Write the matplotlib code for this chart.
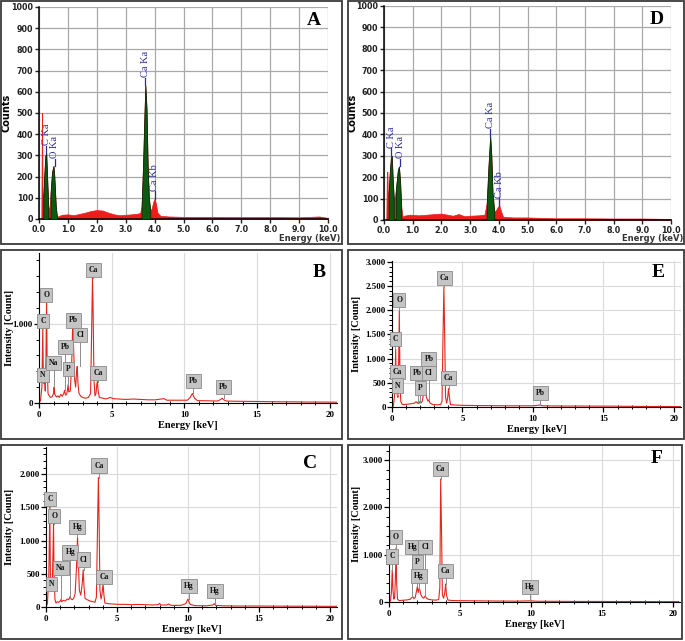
import matplotlib
matplotlib.use('Agg')
import matplotlib.pyplot as plt
from matplotlib.patches import Rectangle
from matplotlib.ticker import MultipleLocator, FuncFormatter

W, H = 685, 641

# ---------------- A : counts spectrum (0-10 keV) ----------------
a_energy = [0.08, 0.10, 0.11, 0.12, 0.15, 0.18, 0.22, 0.25, 0.28, 0.32, 0.36, 0.40,
            0.45, 0.50, 0.53, 0.58, 0.62, 0.70, 0.8, 1.0, 1.2, 1.4, 1.6, 1.8, 2.0,
            2.2, 2.4, 2.6, 2.8, 3.0, 3.2, 3.4, 3.5, 3.55, 3.60, 3.65, 3.68, 3.72,
            3.76, 3.80, 3.85, 3.90, 3.95, 4.00, 4.05, 4.10, 4.2, 4.5, 5.0, 6.0, 7.0,
            8.0, 9.0, 9.7, 10.0]
a_counts = [0, 500, 500, 120, 110, 200, 300, 310, 200, 60, 40, 120,
            220, 250, 200, 60, 10, 15, 20, 22, 18, 24, 30, 38, 42,
            40, 30, 22, 18, 20, 22, 25, 28, 60, 250, 500, 630, 520,
            250, 100, 40, 50, 80, 95, 70, 30, 15, 12, 10, 10, 9,
            9, 8, 12, 5]
a_green = [(0.15, 0.32), (0.40, 0.62), (3.55, 3.85)]
a_names = ['C Ka', 'O Ka', 'Ca Ka', 'Ca Kb']
a_peak_x = [0.25, 0.54, 3.68, 4.01]
a_peak_y = [310, 250, 630, 95]

# ---------------- D : counts spectrum (0-10 keV) ----------------
d_energy = [0.08, 0.10, 0.12, 0.13, 0.16, 0.20, 0.24, 0.27, 0.30, 0.34, 0.38, 0.42,
            0.48, 0.52, 0.56, 0.60, 0.65, 0.7, 0.9, 1.2, 1.5, 1.8, 2.0, 2.2, 2.4,
            2.6, 2.8, 3.0, 3.3, 3.5, 3.58, 3.64, 3.70, 3.74, 3.78, 3.84, 3.90, 3.96,
            4.02, 4.08, 4.15, 4.5, 5.0, 6.0, 7.0, 8.0, 9.0, 10.0]
d_counts = [0, 225, 225, 140, 120, 220, 290, 300, 200, 100, 110, 150,
            230, 250, 180, 60, 15, 20, 25, 22, 25, 28, 30, 25, 20,
            28, 18, 20, 22, 25, 80, 250, 390, 300, 130, 40, 45, 60,
            67, 40, 15, 12, 12, 8, 8, 7, 7, 5]
d_green = [(0.16, 0.34), (0.42, 0.60), (3.58, 3.84)]
d_names = ['C Ka', 'O Ka', 'Ca Ka', 'Ca Kb']
d_peak_x = [0.25, 0.57, 3.70, 4.02]
d_peak_y = [300, 250, 390, 67]

# ---------------- B : intensity spectrum (0-20 keV) ----------------
b_energy = [0.0, 0.1, 0.2, 0.26, 0.30, 0.36, 0.39, 0.43, 0.48, 0.52, 0.56, 0.62,
            0.7, 0.8, 0.9, 1.0, 1.04, 1.08, 1.2, 1.3, 1.4, 1.5, 1.6, 1.7, 1.76,
            1.82, 1.9, 1.95, 2.0, 2.05, 2.15, 2.25, 2.32, 2.38, 2.45, 2.52, 2.58,
            2.63, 2.68, 2.75, 2.9, 3.0, 3.2, 3.4, 3.55, 3.62, 3.68, 3.72, 3.78,
            3.85, 3.92, 3.98, 4.02, 4.07, 4.15, 4.4, 4.6, 4.9, 5.1, 5.5, 6.0, 6.5,
            7.0, 7.5, 8.0, 8.6, 8.8, 9.5, 10.2, 10.4, 10.55, 10.7, 10.9, 11.5,
            12.3, 12.5, 12.6, 12.7, 12.9, 13.5, 14.5, 15.5, 16.5, 17.5, 18.5,
            19.5, 20.5]
b_counts = [0, 30, 200, 950, 300, 250, 320, 150, 600, 1300, 500, 120,
            90, 70, 80, 120, 200, 110, 75, 90, 70, 110, 85, 120, 160,
            100, 110, 150, 230, 140, 150, 500, 1000, 700, 300, 200, 380,
            460, 250, 120, 80, 70, 60, 70, 120, 900, 1580, 1200, 300,
            90, 120, 240, 270, 150, 70, 60, 50, 70, 55, 50, 45, 50,
            45, 40, 40, 55, 35, 35, 35, 70, 120, 60, 30, 28,
            25, 45, 60, 40, 25, 22, 20, 18, 15, 15, 12,
            12, 10]
b_labels = ['C', 'O', 'N', 'Na', 'Pb', 'P', 'Pb', 'Cl', 'Ca', 'Ca', 'Pb', 'Pb']
b_box_x = [0.28, 0.50, 0.28, 1.00, 1.81, 2.00, 2.39, 2.84, 3.74, 4.06, 10.60, 12.70]
b_box_y = [1030, 1365, 350, 505, 705, 433, 1040, 860, 1676, 374, 277, 205]
b_line_end = [950, 1300, 250, 200, 160, 230, 1000, 460, 1580, 270, 120, 60]

# ---------------- E : intensity spectrum (0-20 keV) ----------------
e_energy = [0.0, 0.1, 0.2, 0.26, 0.30, 0.34, 0.38, 0.42, 0.47, 0.52, 0.56, 0.62,
            0.7, 0.8, 1.0, 1.2, 1.4, 1.6, 1.7, 1.8, 1.85, 1.9, 2.0, 2.05, 2.15,
            2.25, 2.32, 2.38, 2.45, 2.55, 2.62, 2.7, 2.9, 3.2, 3.45, 3.55, 3.62,
            3.68, 3.73, 3.80, 3.88, 3.95, 4.01, 4.07, 4.15, 4.5, 5.0, 6.0, 7.0,
            8.0, 9.0, 10.0, 10.5, 10.7, 11.5, 12.5, 13.5, 14.5, 15.5, 16.3, 17.5,
            18.5, 19.5, 20.5]
e_counts = [0, 20, 300, 1200, 400, 300, 250, 200, 900, 2000, 700, 120,
            60, 50, 55, 60, 70, 80, 110, 80, 100, 70, 120, 80, 120,
            300, 380, 300, 200, 120, 150, 80, 50, 45, 50, 120, 1500,
            2480, 1600, 200, 80, 200, 380, 200, 50, 40, 35, 30, 28,
            25, 25, 25, 40, 25, 22, 20, 20, 18, 18, 15, 12,
            10, 10, 8]
e_labels = ['C', 'O', 'Ca', 'N', 'Pb', 'P', 'Pb', 'Cl', 'Ca', 'Ca', 'Pb']
e_box_x = [0.24, 0.52, 0.40, 0.38, 1.82, 2.00, 2.62, 2.62, 3.71, 4.01, 10.53]
e_box_y = [1408, 2220, 718, 444, 697, 390, 984, 697, 2672, 608, 287]
e_line_end = [1200, 2000, 400, 250, 100, 110, 150, 150, 2480, 380, 40]

# ---------------- C : intensity spectrum (0-20 keV) ----------------
c_energy = [0.0, 0.1, 0.2, 0.27, 0.31, 0.35, 0.39, 0.44, 0.49, 0.53, 0.57, 0.63,
            0.7, 0.8, 0.9, 1.0, 1.04, 1.1, 1.2, 1.35, 1.5, 1.6, 1.7, 1.76, 1.85,
            1.95, 2.05, 2.15, 2.22, 2.28, 2.35, 2.45, 2.55, 2.62, 2.68, 2.75, 2.9,
            3.1, 3.3, 3.45, 3.55, 3.63, 3.69, 3.74, 3.80, 3.88, 3.95, 4.02, 4.08,
            4.15, 4.4, 4.7, 5.0, 5.5, 6.0, 6.5, 7.0, 7.5, 7.9, 8.0, 8.1, 8.5,
            8.65, 8.8, 9.5, 9.85, 10.0, 10.15, 10.5, 11.3, 11.75, 11.85, 11.95,
            12.5, 13.5, 14.5, 15.5, 16.5, 17.5, 18.5, 19.5, 20.5]
c_counts = [0, 50, 500, 1500, 400, 250, 300, 300, 800, 1250, 500, 120,
            60, 80, 70, 90, 110, 80, 100, 90, 120, 110, 160, 120, 110,
            130, 200, 600, 1050, 700, 250, 180, 350, 560, 300, 130, 110,
            90, 80, 70, 150, 1200, 1950, 1300, 250, 120, 200, 350, 180,
            60, 50, 45, 40, 40, 35, 38, 35, 30, 35, 55, 30, 30,
            45, 25, 25, 50, 120, 40, 20, 18, 30, 50, 25,
            18, 15, 15, 14, 13, 12, 12, 10, 10]
c_labels = ['C', 'O', 'N', 'Na', 'Hg', 'Hg', 'Cl', 'Ca', 'Ca', 'Hg', 'Hg']
c_box_x = [0.28, 0.59, 0.38, 1.06, 1.71, 2.20, 2.65, 3.73, 4.10, 10.06, 11.90]
c_box_y = [1622, 1370, 353, 589, 821, 1199, 715, 2131, 458, 317, 237]
c_line_end = [1500, 1250, 250, 100, 150, 1050, 560, 1950, 350, 120, 50]

# ---------------- F : intensity spectrum (0-20 keV) ----------------
f_energy = [0.0, 0.1, 0.17, 0.23, 0.28, 0.34, 0.40, 0.45, 0.50, 0.54, 0.60, 0.7,
            0.9, 1.1, 1.3, 1.5, 1.6, 1.68, 1.75, 1.85, 1.95, 2.0, 2.06, 2.12, 2.18,
            2.25, 2.35, 2.45, 2.55, 2.62, 2.75, 3.0, 3.3, 3.5, 3.58, 3.64, 3.70,
            3.76, 3.85, 3.93, 3.99, 4.05, 4.15, 4.5, 5.0, 6.0, 7.0, 8.0, 9.0,
            9.95, 10.5, 11.5, 13.0, 14.5, 16.0, 17.5, 19.0, 20.4]
f_counts = [0, 20, 200, 680, 250, 60, 100, 500, 1150, 400, 60, 30,
            35, 40, 45, 60, 90, 110, 70, 100, 250, 330, 200, 280, 250,
            150, 100, 80, 130, 90, 60, 45, 40, 50, 300, 2600, 1500,
            150, 80, 200, 380, 150, 40, 30, 28, 25, 22, 20, 18,
            25, 15, 15, 12, 12, 10, 10, 8, 8]
f_labels = ['C', 'O', 'Hg', 'Cl', 'P', 'Hg', 'Ca', 'Ca', 'Hg']
f_box_x = [0.23, 0.49, 1.65, 2.54, 1.98, 2.12, 3.64, 3.99, 9.93]
f_box_y = [963, 1370, 1167, 1167, 850, 555, 2818, 660, 323]
f_line_end = [680, 1150, 100, 130, 330, 250, 2600, 380, 20]

SERIF = 'Liberation Serif'


def px_axes(fig, left, top, right, bottom):
    return fig.add_axes([left / W, 1 - bottom / H, (right - left) / W, (bottom - top) / H])


def px_frame(fig, x0, y0, x1, y1):
    fig.add_artist(Rectangle((x0 / W, 1 - y1 / H), (x1 - x0) / W, (y1 - y0) / H,
                             transform=fig.transFigure, fill=False,
                             edgecolor='#3a3a3a', linewidth=1.3))


def dot_thousands(v, pos):
    return f"{int(round(v)):,}".replace(',', '.')


def counts_panel(ax, energy, counts, green, names, px, py, letter, ylab_x):
    ax.fill_between(energy, 0, counts, color='#ee1c1c', linewidth=0.5, zorder=2)
    for lo, hi in green:
        sel = [(e, c) for e, c in zip(energy, counts) if lo <= e <= hi]
        ax.fill_between([s[0] for s in sel], 0, [s[1] for s in sel],
                        facecolor='#0c5a12', edgecolor='#062b08', linewidth=0.6, zorder=3)
    ax.set_xlim(0, 10)
    ax.set_ylim(0, 1000)
    ax.xaxis.set_major_locator(MultipleLocator(1))
    ax.yaxis.set_major_locator(MultipleLocator(100))
    ax.xaxis.set_major_formatter(FuncFormatter(lambda v, p: f"{v:.1f}"))
    ax.grid(True, color='#a9a9a9', linewidth=0.9, zorder=0)
    ax.set_axisbelow(True)
    for s in ['top', 'right']:
        ax.spines[s].set_visible(False)
    ax.spines['left'].set_linewidth(1.1)
    ax.spines['bottom'].set_linewidth(1.1)
    ax.tick_params(length=3, width=1, labelsize=5.8, pad=1.2, colors='#222222')
    for lab in ax.get_xticklabels() + ax.get_yticklabels():
        lab.set_fontweight('bold')
    ax.set_ylabel('Counts', fontsize=7, fontweight='bold')
    ax.yaxis.set_label_coords(ylab_x, 0.5)
    for n, x, y in zip(names, px, py):
        ax.plot([x, x], [y, y + 35], color='#2b2b9e', linewidth=0.9, zorder=4)
        ax.text(x, y + 38, n, rotation=90, ha='center', va='bottom', fontsize=7.5,
                family=SERIF, color='#2b2b9e', zorder=5)
    ax.text(0.95, 0.935, letter, transform=ax.transAxes, ha='center', va='center',
            fontsize=14, fontweight='bold', family=SERIF)


def intensity_panel(ax, energy, counts, ymax, ymajor, yminor, labels, bx, by, bend,
                    letter, lx, ly, ylab_x):
    ax.plot(energy, counts, color='#e3261f', linewidth=0.8, zorder=2)
    ax.set_xlim(0, 20.5)
    ax.set_ylim(0, ymax)
    ax.xaxis.set_major_locator(MultipleLocator(5))
    ax.xaxis.set_minor_locator(MultipleLocator(1))
    ax.yaxis.set_major_locator(MultipleLocator(ymajor))
    ax.yaxis.set_minor_locator(MultipleLocator(yminor))
    ax.yaxis.set_major_formatter(FuncFormatter(dot_thousands))
    ax.grid(True, which='major', color='#dadada', linewidth=0.8, zorder=0)
    ax.set_axisbelow(True)
    for s in ['top', 'right']:
        ax.spines[s].set_visible(False)
    ax.tick_params(which='major', length=3.5, width=0.9, labelsize=6.5, pad=1)
    ax.tick_params(axis='x', which='major', pad=2.5)
    ax.tick_params(which='minor', length=2, width=0.7)
    ax.tick_params(axis='x', which='minor', direction='inout', length=3)
    for lab in ax.get_xticklabels() + ax.get_yticklabels():
        lab.set_fontweight('bold')
        lab.set_family(SERIF)
    ax.set_xlabel('Energy [keV]', fontsize=7.5, fontweight='bold', family=SERIF, labelpad=1)
    ax.set_ylabel('Intensity [Count]', fontsize=7.5, fontweight='bold', family=SERIF)
    ax.yaxis.set_label_coords(ylab_x, 0.5)
    for t, x, y, e in zip(labels, bx, by, bend):
        ax.plot([x, x], [e, y], color='#8c8c8c', linewidth=0.7, zorder=3)
        ax.text(x, y, t, ha='center', va='center', fontsize=5.5, fontweight='bold',
                family=SERIF, color='#111111', zorder=4,
                bbox=dict(boxstyle='square,pad=0.4', facecolor='#c4c4c4',
                          edgecolor='#8a8a8a', linewidth=0.6))
    ax.text(lx, ly, letter, transform=ax.transAxes, ha='center', va='center',
            fontsize=14, fontweight='bold', family=SERIF)


fig = plt.figure(figsize=(W / 100, H / 100), dpi=100)

# panel frames
px_frame(fig, 1, 1, 342, 244)
px_frame(fig, 348, 1, 684, 244)
px_frame(fig, 1, 250, 342, 439)
px_frame(fig, 348, 250, 684, 439)
px_frame(fig, 1, 445, 342, 639)
px_frame(fig, 348, 445, 682, 639)

ax_a = px_axes(fig, 39, 7, 328, 219)
counts_panel(ax_a, a_energy, a_counts, a_green, a_names, a_peak_x, a_peak_y, 'A',
             (12 - 39) / 289)
fig.text(340 / W, 1 - 239 / H, 'Energy (keV)', ha='right', va='center', fontsize=6,
         fontweight='bold', color='#333333')

ax_d = px_axes(fig, 384, 6, 671, 220)
counts_panel(ax_d, d_energy, d_counts, d_green, d_names, d_peak_x, d_peak_y, 'D',
             (357 - 384) / 287)
fig.text(683 / W, 1 - 239 / H, 'Energy (keV)', ha='right', va='center', fontsize=6,
         fontweight='bold', color='#333333')

ax_b = px_axes(fig, 39, 253, 337, 403)
intensity_panel(ax_b, b_energy, b_counts, 1890, 1000, 200, b_labels, b_box_x, b_box_y,
                b_line_end, 'B', 0.94, 0.867, (14 - 39) / 298)

ax_e = px_axes(fig, 392, 261, 681, 407)
intensity_panel(ax_e, e_energy, e_counts, 3020, 500, 100, e_labels, e_box_x, e_box_y,
                e_line_end, 'E', 0.92, 0.918, (361 - 392) / 289)

ax_c = px_axes(fig, 46, 447, 337, 607)
intensity_panel(ax_c, c_energy, c_counts, 2410, 500, 100, c_labels, c_box_x, c_box_y,
                c_line_end, 'C', 0.907, 0.9, (14 - 46) / 291)

ax_f = px_axes(fig, 389, 445, 680, 602)
intensity_panel(ax_f, f_energy, f_counts, 3320, 1000, 200, f_labels, f_box_x, f_box_y,
                f_line_end, 'F', 0.92, 0.917, (361 - 389) / 291)

fig.savefig('out.png', dpi=100)
